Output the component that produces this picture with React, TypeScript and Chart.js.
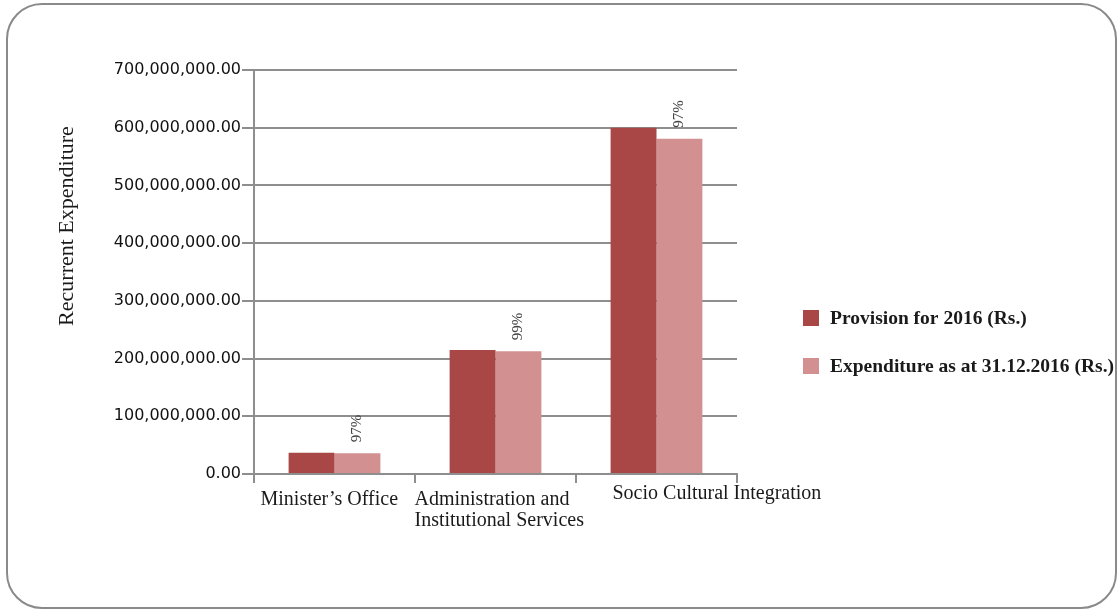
import React, { useEffect, useRef } from "react";
import { Chart, registerables } from "chart.js";

Chart.register(...registerables);

const categories: string[][] = [
  ["Minister\u2019s Office"],
  ["Administration and", "Institutional Services"],
  ["Socio Cultural Integration"],
];
const provision: number[] = [36900000, 215000000, 600000000];
const expenditure: number[] = [35800000, 212500000, 581000000];
const pctLabels: string[] = ["97%", "99%", "97%"];
const seriesNames: string[] = ["Provision for 2016 (Rs.)", "Expenditure as at 31.12.2016 (Rs.)"];
const yTicks = { min: 0, max: 700000000, step: 100000000 };
const axisTitle = "Recurrent Expenditure";

const colProvision = "#A84746";
const colExpend = "#D29190";
const gridCol = "#8e8e8e";
const serif = "'Liberation Serif', 'Times New Roman', serif";

// per-label placement (left start relative to category centre, baseline below axis)
const labelShift = [-74, -81, -44];
const labelBase = [31, 31, 25];

const overlay = {
  id: "overlay",
  afterDraw(chart: any) {
    const ctx = chart.ctx;
    const xs = chart.scales.x;
    const area = chart.chartArea;
    ctx.save();
    // category labels
    ctx.fillStyle = "#1a1a1a";
    ctx.font = `20px ${serif}`;
    ctx.textAlign = "left";
    ctx.textBaseline = "alphabetic";
    categories.forEach((lines, i) => {
      const cx = xs.getPixelForValue(i);
      lines.forEach((ln, j) => {
        ctx.fillText(ln, cx + labelShift[i], area.bottom + labelBase[i] + j * 21);
      });
    });
    // data labels
    ctx.fillStyle = "#444";
    ctx.font = `15px ${serif}`;
    const meta = chart.getDatasetMeta(1);
    meta.data.forEach((bar: any, i: number) => {
      ctx.save();
      ctx.translate(bar.x, bar.y - 11);
      ctx.rotate(-Math.PI / 2);
      ctx.textAlign = "left";
      ctx.textBaseline = "middle";
      ctx.fillText(pctLabels[i], 0, 0);
      ctx.restore();
    });
    // y axis title
    ctx.save();
    ctx.fillStyle = "#1a1a1a";
    ctx.font = `22px ${serif}`;
    ctx.translate(67, 226);
    ctx.rotate(-Math.PI / 2);
    ctx.textAlign = "center";
    ctx.textBaseline = "middle";
    ctx.fillText(axisTitle, 0, 0);
    ctx.restore();
    // legend
    const lx = area.right + 66;
    const ly = 318;
    chart.data.datasets.forEach((ds: any, i: number) => {
      const y = ly + i * 48;
      ctx.fillStyle = ds.backgroundColor;
      ctx.fillRect(lx, y - 8, 16, 16);
      ctx.fillStyle = "#1a1a1a";
      ctx.font = `bold 19.5px ${serif}`;
      ctx.textAlign = "left";
      ctx.textBaseline = "middle";
      ctx.fillText(ds.label, lx + 27, y + 1);
    });
    ctx.restore();
  },
};

export default function App() {
  const ref = useRef<HTMLCanvasElement | null>(null);
  useEffect(() => {
    if (!ref.current) return;
    const chart = new Chart(ref.current, {
      type: "bar",
      data: {
        labels: categories.map((c) => c.join(" ")),
        datasets: [
          {
            label: seriesNames[0],
            data: provision,
            backgroundColor: colProvision,
            categoryPercentage: 0.57,
            barPercentage: 1,
          },
          {
            label: seriesNames[1],
            data: expenditure,
            backgroundColor: colExpend,
            categoryPercentage: 0.57,
            barPercentage: 1,
          },
        ],
      },
      options: {
        animation: false,
        responsive: false,
        maintainAspectRatio: false,
        layout: { padding: { left: 0, right: 382, top: 70, bottom: 128 } },
        plugins: {
          legend: { display: false },
          tooltip: { enabled: false },
        },
        scales: {
          x: {
            grid: {
              display: true,
              drawOnChartArea: false,
              drawTicks: true,
              tickLength: 9,
              color: gridCol,
              lineWidth: 2,
              offset: true,
            },
            border: { color: gridCol, width: 2 },
            ticks: { display: false },
          },
          y: {
            min: yTicks.min,
            max: yTicks.max,
            afterFit: (s: any) => {
              s.width = 254;
            },
            grid: {
              color: gridCol,
              lineWidth: 2,
              tickLength: 12,
            },
            border: { color: gridCol, width: 2 },
            ticks: {
              stepSize: yTicks.step,
              padding: 1,
              color: "#111",
              font: { family: "'DejaVu Sans', sans-serif", size: 16 },
              callback: (v: any) =>
                Number(v).toLocaleString("en-US", {
                  minimumFractionDigits: 2,
                  maximumFractionDigits: 2,
                }),
            },
          },
        },
      },
      plugins: [overlay],
    });
    return () => chart.destroy();
  }, []);
  return (
    <div style={{ position: "fixed", left: 0, top: 0, width: 1119, height: 611, background: "#fff" }}>
      <div
        style={{
          position: "absolute",
          left: 6,
          top: 3,
          width: 1111,
          height: 606,
          border: "2px solid #8a8a8a",
          borderRadius: 36,
          boxSizing: "border-box",
        }}
      />
      <canvas ref={ref} width={1119} height={611} style={{ position: "absolute", left: 0, top: 0 }} />
    </div>
  );
}
